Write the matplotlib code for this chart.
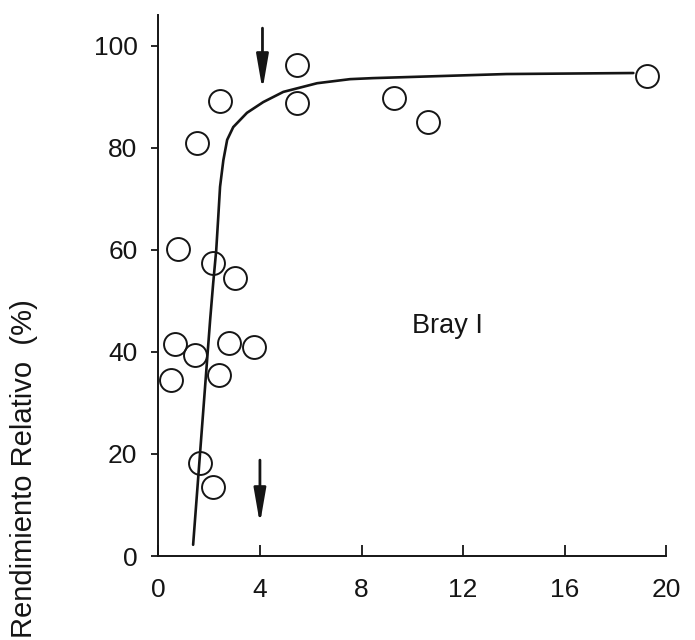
import matplotlib
matplotlib.use("Agg")
import matplotlib.pyplot as plt

plt.rcParams['font.family'] = ['Liberation Sans', 'DejaVu Sans']

# Observed relative yield versus extractable P (Bray I)
p_bray = [5.46, 5.46, 2.43, 1.52, 0.78, 2.15, 3.02, 19.24, 9.28, 10.6,
          0.66, 1.44, 2.78, 3.77, 0.50, 2.39, 1.64, 2.16]
rend_rel = [96.3, 88.8, 89.2, 81.0, 60.2, 57.4, 54.5, 94.1, 89.8, 85.1,
            41.6, 39.4, 41.8, 41.0, 34.5, 35.5, 18.2, 13.5]

# Fitted response curve
curve_x = [1.37, 2.04, 2.16, 2.28, 2.36, 2.43, 2.56, 2.71, 2.95, 3.49,
           4.13, 4.92, 6.25, 7.55, 8.45, 13.7, 18.7]
curve_y = [2.2, 46.3, 53.5, 60.0, 66.5, 72.4, 77.6, 81.6, 84.1, 86.9,
           89.0, 91.0, 92.7, 93.5, 93.7, 94.5, 94.7]

# Critical level markers (x, arrow start y, arrow tip y)
critical_x = [4.1, 4.0]
arrow_from = [103.5, 18.8]
arrow_to = [91.4, 6.3]

x_ticks = [0, 4, 8, 12, 16, 20]
y_ticks = [0, 20, 40, 60, 80, 100]

ink = '#151515'

fig = plt.figure(figsize=(6.95, 6.4), dpi=100)
ax = fig.add_axes([0.2278, 0.13125, 0.7310, 0.8447])

ax.plot(curve_x, curve_y, color=ink, lw=1.9, solid_capstyle='round',
        solid_joinstyle='round', zorder=2)
ax.plot(p_bray, rend_rel, linestyle='none', marker='o', markersize=16.5,
        markerfacecolor='none', markeredgecolor=ink, markeredgewidth=1.4,
        clip_on=False, zorder=3)

for xc, y0, y1 in zip(critical_x, arrow_from, arrow_to):
    ax.annotate('', xy=(xc, y1), xytext=(xc, y0),
                arrowprops=dict(arrowstyle='-|>,head_length=1.5,head_width=0.26',
                                color=ink, lw=2.0, mutation_scale=14,
                                shrinkA=0, shrinkB=0))

ax.text(10.0, 43.7, 'Bray I', fontsize=19.5, color=ink, ha='left', va='baseline')

ax.set_xlim(0, 20)
ax.set_ylim(0, 106)
ax.set_xticks(x_ticks)
ax.set_yticks(y_ticks)
ax.set_xticklabels([str(v) for v in x_ticks])
ax.set_yticklabels([str(v) for v in y_ticks])

for s in ['top', 'right']:
    ax.spines[s].set_visible(False)
for s in ['left', 'bottom']:
    ax.spines[s].set_linewidth(1.4)
    ax.spines[s].set_color(ink)

ax.tick_params(axis='x', direction='in', length=8, width=1.3, pad=16,
               labelsize=19, colors=ink)
ax.tick_params(axis='y', direction='out', length=5, width=1.3, pad=10,
               labelsize=19, colors=ink)

fig.text(0.034, 0.003, 'Rendimiento Relativo  (%)', rotation=90,
         fontsize=21, color=ink, ha='center', va='bottom')

fig.savefig('out.png', dpi=100, facecolor='white')
